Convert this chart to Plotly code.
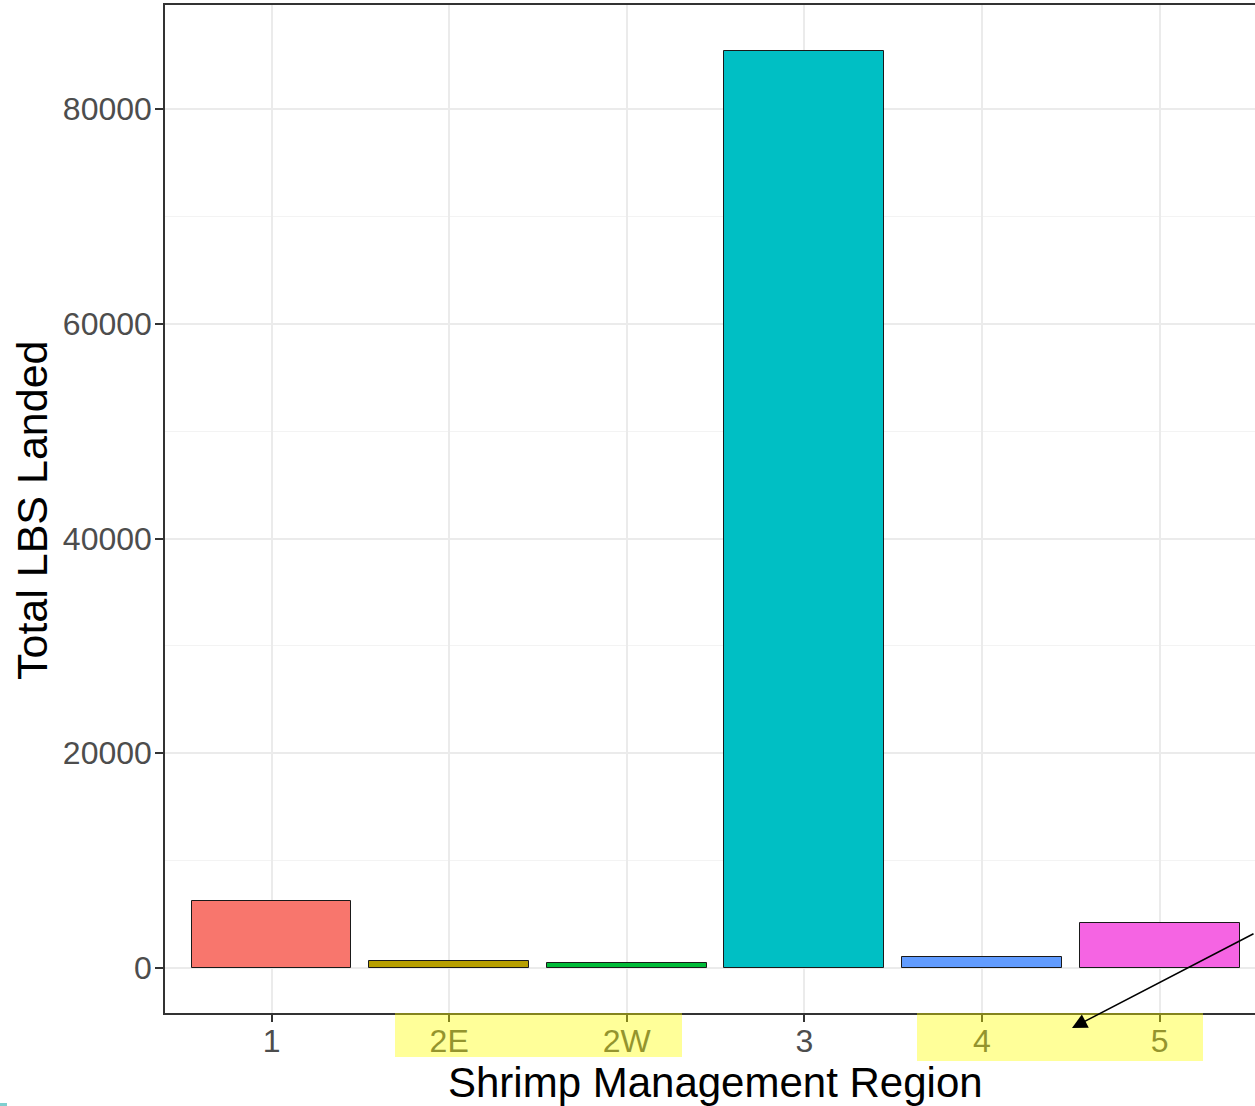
import plotly.graph_objects as go

# Shrimp landings by management region
regions = ["1", "2E", "2W", "3", "4", "5"]
lbs_landed = [6240, 650, 450, 85380, 1020, 4180]
bar_colors = ["#F8766D", "#B79F00", "#00BA38", "#00BFC4", "#619CFF", "#F564E3"]
y_ticks = [0, 20000, 40000, 60000, 80000]

W, H = 1255, 1106
L, T, B = 165, 5, 93
plot_w = W - L
plot_h = H - T - B


def px_x(x):
    return (x - L) / plot_w


def px_y(y):
    return (H - B - y) / plot_h


fig = go.Figure()
fig.add_trace(go.Bar(
    x=regions,
    y=lbs_landed,
    width=0.9,
    marker=dict(color=bar_colors, line=dict(color="#1a1a1a", width=1)),
    showlegend=False,
))

axis_font = dict(family="Liberation Sans, Arial, sans-serif", size=32, color="#4D4D4D")

fig.update_layout(
    width=W, height=H,
    margin=dict(l=L, r=0, t=T, b=B),
    paper_bgcolor="white",
    plot_bgcolor="white",
    font=dict(family="Liberation Sans, Arial, sans-serif"),
    bargap=0,
    xaxis=dict(
        type="category",
        range=[-0.6, 5.537],
        showgrid=True, gridcolor="#EBEBEB", gridwidth=2,
        showline=True, linecolor="#333333", linewidth=1.5, mirror=True,
        ticks="outside", ticklen=7, tickcolor="#333333", tickwidth=1.5,
        tickfont=axis_font, ticklabelstandoff=-8,
        zeroline=False,
    ),
    yaxis=dict(
        range=[-4190, 89690],
        tickvals=y_ticks,
        ticktext=[str(v) for v in y_ticks],
        showgrid=True, gridcolor="#EBEBEB", gridwidth=2,
        minor=dict(dtick=10000, tick0=0, showgrid=True, gridcolor="#F3F3F3", gridwidth=1, ticks=""),
        showline=True, linecolor="#333333", linewidth=1.5, mirror=False,
        ticks="outside", ticklen=8, tickcolor="#333333", tickwidth=1.5,
        tickfont=axis_font, ticklabelstandoff=-3,
        zeroline=False,
    ),
)

# axis titles
fig.add_annotation(
    text="Shrimp Management Region", xref="paper", yref="paper",
    x=px_x(715), y=px_y(1082), showarrow=False,
    font=dict(size=42, color="black"), xanchor="center", yanchor="middle",
)
fig.add_annotation(
    text="Total LBS Landed", xref="paper", yref="paper",
    x=px_x(32), y=px_y(510), showarrow=False, textangle=-90,
    font=dict(size=43, color="black"), xanchor="center", yanchor="middle",
)

# yellow highlight boxes over tick labels
for x0, x1, y1 in [(395, 682, 1057), (917, 1203, 1061)]:
    fig.add_shape(
        type="rect", xref="paper", yref="paper",
        x0=px_x(x0), x1=px_x(x1), y0=px_y(1013), y1=px_y(y1),
        fillcolor="rgba(255,255,0,0.4)", line=dict(width=0), layer="above",
    )

# arrow pointing to the highlight
fig.add_annotation(
    text="", xref="paper", yref="paper",
    x=px_x(1072), y=px_y(1028), ax=183, ay=-95,
    showarrow=True, arrowhead=2, arrowsize=2, arrowwidth=1.5, arrowcolor="black",
)

# small stray mark at bottom-left
fig.add_shape(
    type="rect", xref="paper", yref="paper",
    x0=px_x(0), x1=px_x(7), y0=px_y(1103), y1=px_y(1106),
    fillcolor="#7FCFCF", line=dict(width=0), layer="above",
)

fig.write_html(
    "out.html",
    config={"displayModeBar": False},
    post_script="document.body.style.margin='0px';document.body.style.overflow='hidden';",
)
